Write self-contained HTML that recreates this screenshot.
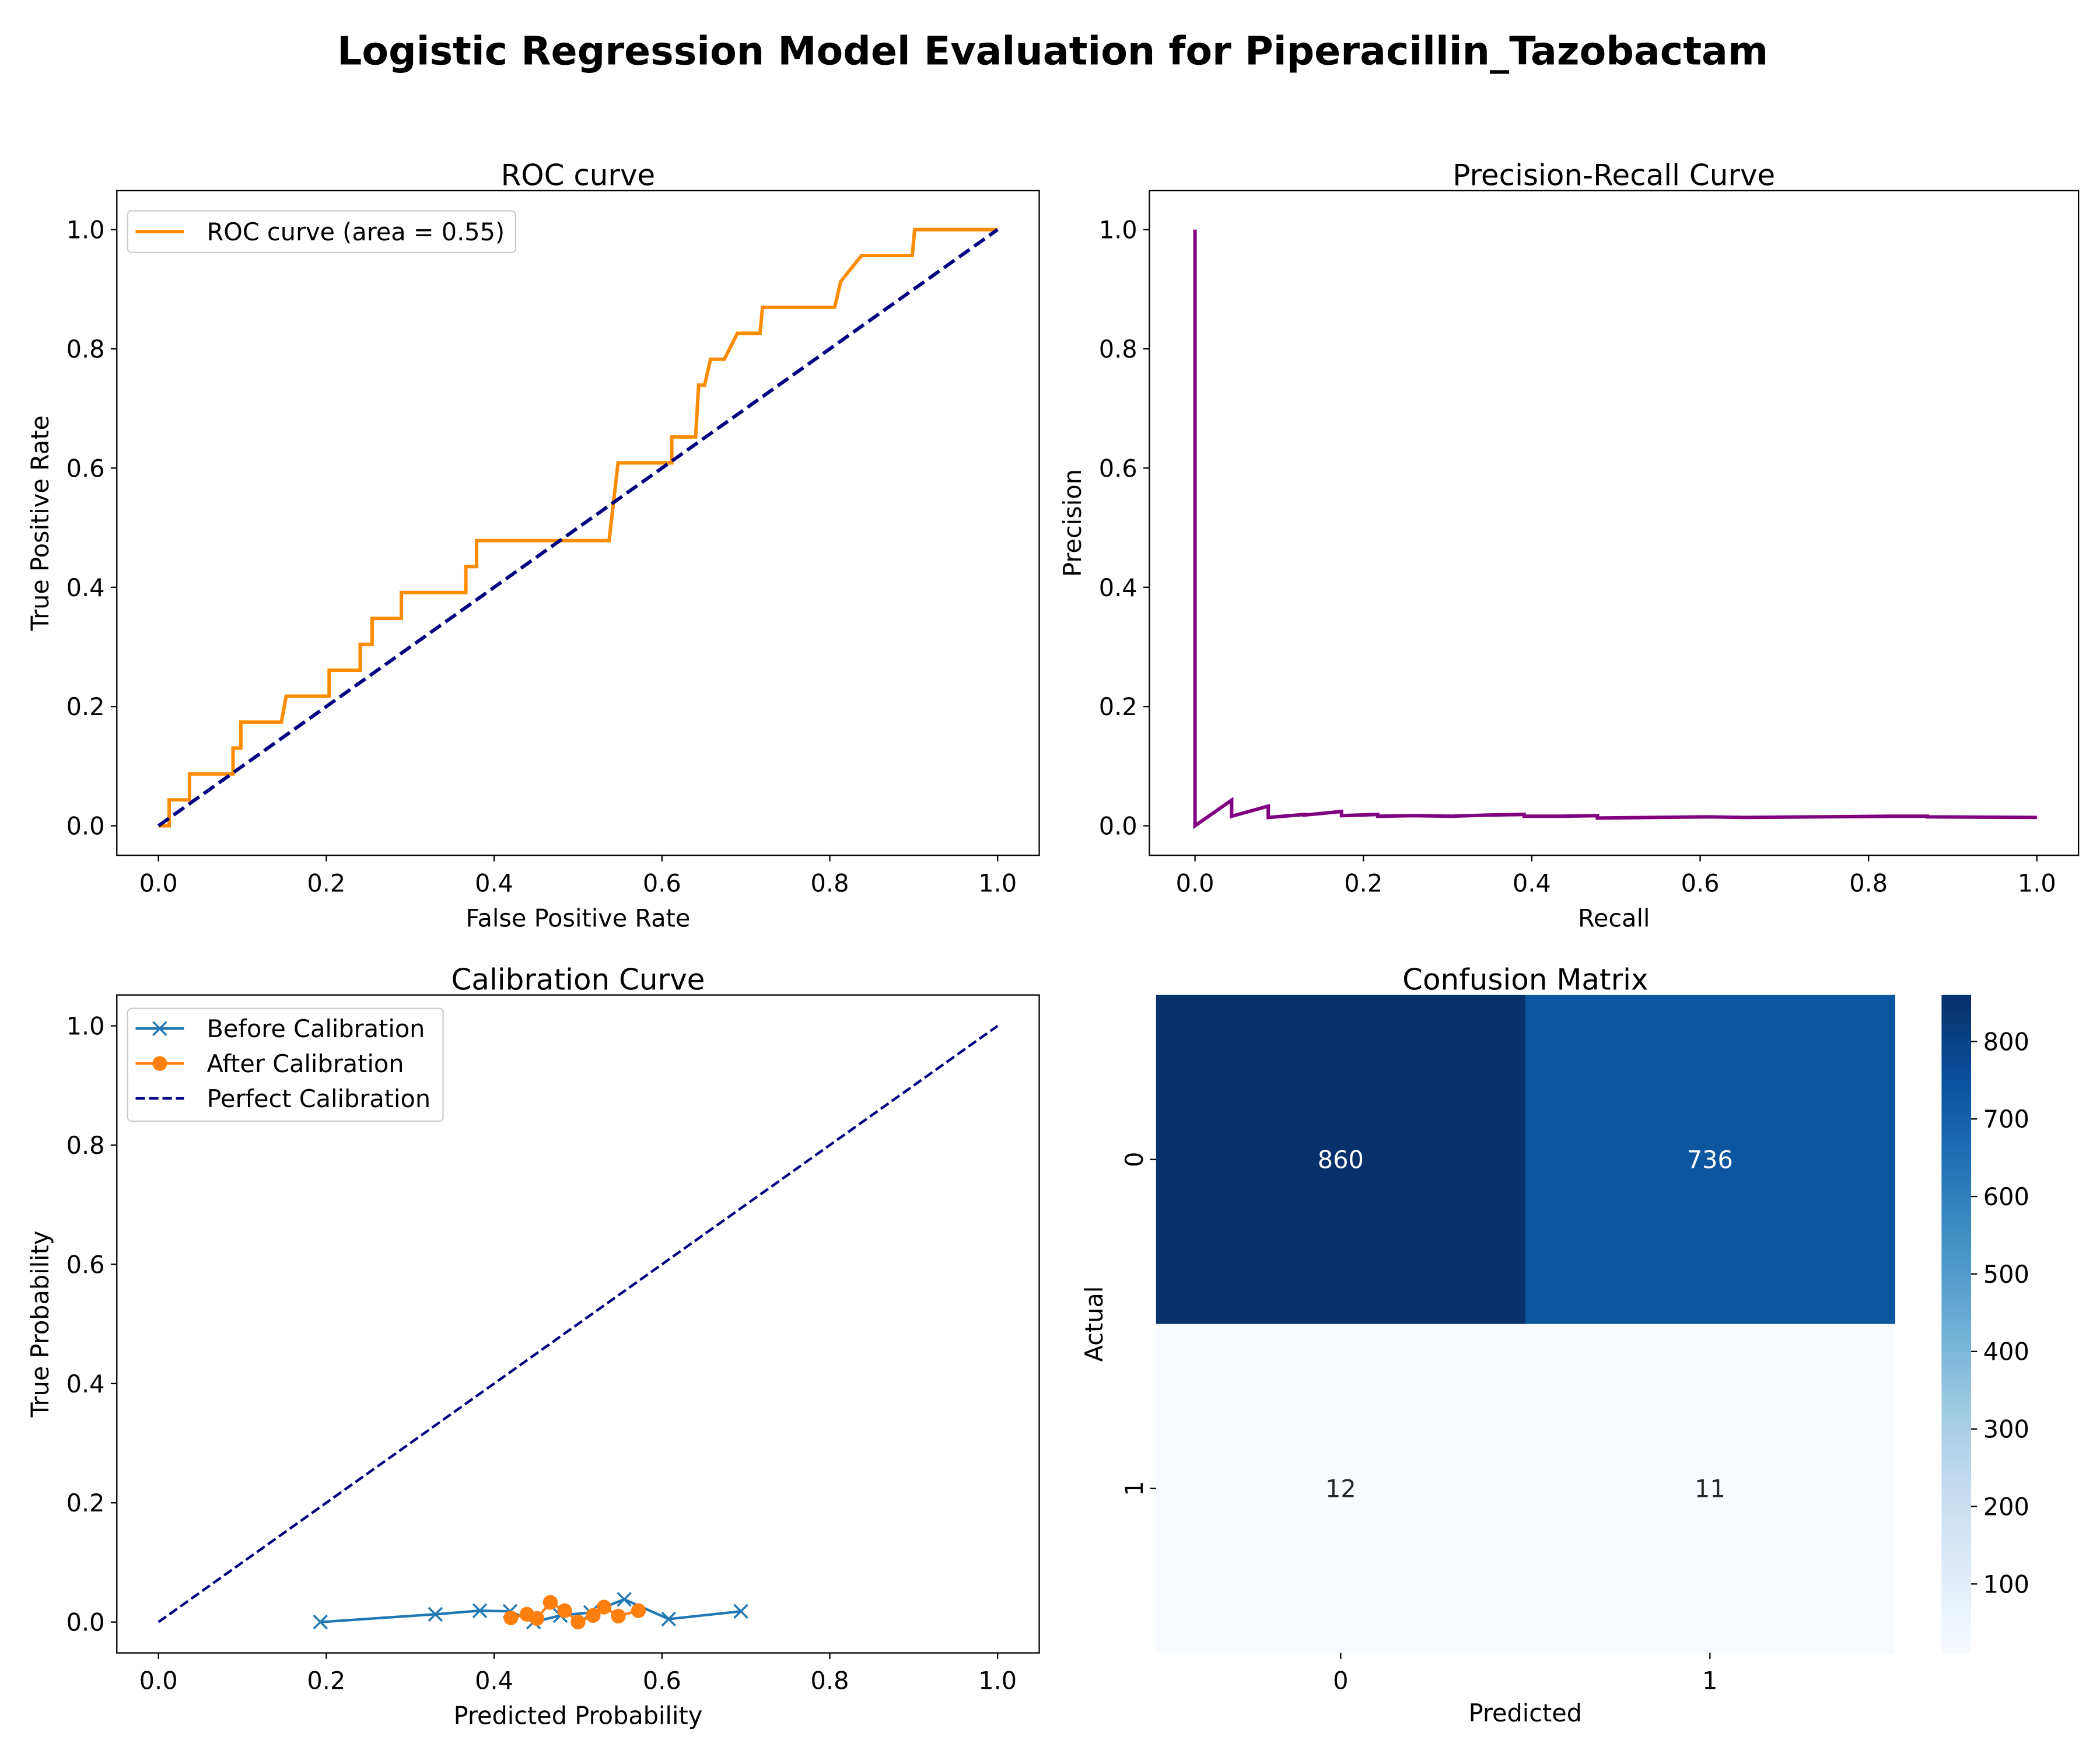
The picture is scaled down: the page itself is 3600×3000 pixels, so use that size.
<!DOCTYPE html>
<html><head><meta charset="utf-8"><style>
html,body{margin:0;padding:0;background:#fff;}
svg{display:block;font-family:"DejaVu Sans","Liberation Sans",sans-serif;}
</style></head><body>
<svg id="fig" width="3600" height="3000" viewBox="0 0 1564 1303.3" preserveAspectRatio="none" xmlns="http://www.w3.org/2000/svg">
<rect width="1564" height="1303.3" fill="#fff"/>
<text x="784" y="48" text-anchor="middle" font-size="28.9" font-weight="bold">Logistic Regression Model Evaluation for Piperacillin_Tazobactam</text>
<g id="g"></g>
</svg>
<script>
// ROC data
const rocFpr=[0,0.0128,0.0128,0.037,0.037,0.0889,0.0889,0.0982,0.0982,0.1465,0.1522,0.2034,0.2034,0.2404,0.2404,0.2546,0.2546,0.2895,0.2895,0.3663,0.3663,0.3791,0.3791,0.537,0.5477,0.6117,0.6117,0.6401,0.6437,0.6508,0.6579,0.6743,0.6899,0.7169,0.7198,0.8058,0.813,0.8378,0.8983,0.9011,1.0];
const rocTpr=[0,0,0.0435,0.0435,0.087,0.087,0.1304,0.1304,0.1739,0.1739,0.2174,0.2174,0.2609,0.2609,0.3043,0.3043,0.3478,0.3478,0.3913,0.3913,0.4348,0.4348,0.4783,0.4783,0.6087,0.6087,0.6522,0.6522,0.7391,0.7391,0.7826,0.7826,0.8261,0.8261,0.8696,0.8696,0.913,0.9565,0.9565,1.0,1.0];
// PR data
const prRecall=[0,0,0.0435,0.0435,0.087,0.087,0.13,0.13,0.174,0.174,0.217,0.217,0.26,0.304,0.348,0.391,0.391,0.435,0.478,0.478,0.609,0.652,0.826,0.87,0.87,1.0];
const prPrecision=[1.0,0,0.043,0.016,0.033,0.014,0.019,0.018,0.024,0.017,0.019,0.016,0.017,0.016,0.018,0.019,0.016,0.016,0.017,0.013,0.015,0.014,0.016,0.016,0.015,0.014];
// Calibration data
const beforeX=[0.193,0.330,0.383,0.419,0.447,0.479,0.515,0.555,0.608,0.694];
const beforeY=[0.0,0.013,0.019,0.018,0.0,0.011,0.016,0.038,0.005,0.018];
const afterX=[0.420,0.439,0.451,0.467,0.484,0.500,0.518,0.531,0.548,0.572];
const afterY=[0.007,0.013,0.006,0.033,0.019,0.0,0.011,0.025,0.010,0.019];
// Confusion matrix
const cmValues=[[860,736],[12,11]];
const cmLabels=['0','1'];
const tickVals=[0,0.2,0.4,0.6,0.8,1.0];
const tickLabels=['0.0','0.2','0.4','0.6','0.8','1.0'];
const cbTicks=[100,200,300,400,500,600,700,800];

const FS=18, TFS=21.7;
const NS='http://www.w3.org/2000/svg';
const G=document.getElementById('g');
function el(tag,attrs,parent,text){const e=document.createElementNS(NS,tag);for(const k in attrs)e.setAttribute(k,attrs[k]);if(text!==undefined)e.textContent=text;(parent||G).appendChild(e);return e;}
function mk(x0,x1,y0,y1){return {sx:v=>x0+v*(x1-x0),sy:v=>y0+v*(y1-y0)};}

function axesPanel(name,L,R,T,B,ax,title,xl,yl){
  const g=el('g',{});
  
  
  const t=el('text',{x:(L+R)/2,y:T-4,'text-anchor':'middle','font-size':TFS},g,title);
  
  
  tickVals.forEach((v,i)=>{
    const x=ax.sx(v);el('line',{x1:x,x2:x,y1:B,y2:B+4.5,stroke:'#000','stroke-width':1},g);
    const tx=el('text',{x:x,y:B+27,'text-anchor':'middle','font-size':FS},g,tickLabels[i]);
    
    
    const y=ax.sy(v);el('line',{x1:L,x2:L-4.5,y1:y,y2:y,stroke:'#000','stroke-width':1},g);
    const ty=el('text',{x:L-9,y:y+6.5,'text-anchor':'end','font-size':FS},g,tickLabels[i]);
    
    
  });
  const xt=el('text',{x:(L+R)/2,y:B+53,'text-anchor':'middle','font-size':FS},g,xl);
  
  
  const cy=(T+B)/2;
  const yt=el('text',{x:L-51,y:cy,'text-anchor':'middle','font-size':FS,transform:`rotate(-90 ${L-51} ${cy})`},g,yl);
  
  
  return g;
}
function frame(g,L,R,T,B){el('rect',{x:L,y:T,width:R-L,height:B-T,fill:'none',stroke:'#000','stroke-width':1},g);}
function pts(xs,ys,ax){return xs.map((x,i)=>ax.sx(x).toFixed(2)+','+ax.sy(ys[i]).toFixed(2)).join(' ');}

// ROC
{const L=87,R=774,T=142,B=637;const ax=mk(118,743,615,171);
const g=axesPanel('roc',L,R,T,B,ax,'ROC curve','False Positive Rate','True Positive Rate');
const c=el('polyline',{points:pts(rocFpr,rocTpr,ax),fill:'none',stroke:'#ff8c00','stroke-width':2.6,'stroke-linejoin':'miter'},g);


const d=el('line',{x1:ax.sx(0),y1:ax.sy(0),x2:ax.sx(1),y2:ax.sy(1),stroke:'#000080','stroke-width':2.6,'stroke-dasharray':'9.6 4.2'},g);


frame(g,L,R,T,B);
const lg=el('g',{},g);


el('rect',{x:95,y:157,width:289,height:31,rx:3,fill:'#fff',stroke:'#ccc','stroke-width':1},lg);
el('line',{x1:101,x2:137,y1:172.5,y2:172.5,stroke:'#ff8c00','stroke-width':2.6},lg);
el('text',{x:154,y:179,'font-size':FS},lg,'ROC curve (area = 0.55)');
}
// PR
{const L=856,R=1548,T=142,B=637;const ax=mk(890,1517,615,171);
const g=axesPanel('pr',L,R,T,B,ax,'Precision-Recall Curve','Recall','Precision');
const c=el('polyline',{points:pts(prRecall,prPrecision,ax),fill:'none',stroke:'#800080','stroke-width':2.6},g);


frame(g,L,R,T,B);}
// Calibration
{const L=87,R=774,T=741,B=1231;const ax=mk(118,743,1208,764);
const g=axesPanel('calibration',L,R,T,B,ax,'Calibration Curve','Predicted Probability','True Probability');
const d=el('line',{x1:ax.sx(0),y1:ax.sy(0),x2:ax.sx(1),y2:ax.sy(1),stroke:'#000080','stroke-width':1.9,'stroke-dasharray':'7 3'},g);


const b=el('polyline',{points:pts(beforeX,beforeY,ax),fill:'none',stroke:'#1f77b4','stroke-width':1.9},g);


beforeX.forEach((x,i)=>{const cx=ax.sx(x),cy=ax.sy(beforeY[i]);
  const m=el('path',{d:`M${cx-5},${cy-5}L${cx+5},${cy+5}M${cx-5},${cy+5}L${cx+5},${cy-5}`,stroke:'#1f77b4','stroke-width':1.5},g);
  
  });
const a=el('polyline',{points:pts(afterX,afterY,ax),fill:'none',stroke:'#ff7f0e','stroke-width':1.9},g);


afterX.forEach((x,i)=>{const m=el('circle',{cx:ax.sx(x),cy:ax.sy(afterY[i]),r:5.5,fill:'#ff7f0e'},g);
  
  });
frame(g,L,R,T,B);
const lg=el('g',{},g);


el('rect',{x:95,y:751,width:235,height:84,rx:3,fill:'#fff',stroke:'#ccc','stroke-width':1},lg);
el('line',{x1:101,x2:137,y1:766,y2:766,stroke:'#1f77b4','stroke-width':1.9},lg);
el('path',{d:'M114,761L124,771M114,771L124,761',stroke:'#1f77b4','stroke-width':1.5},lg);
el('text',{x:154,y:772.5,'font-size':FS},lg,'Before Calibration');
el('line',{x1:101,x2:137,y1:792,y2:792,stroke:'#ff7f0e','stroke-width':1.9},lg);
el('circle',{cx:119,cy:792,r:5.5,fill:'#ff7f0e'},lg);
el('text',{x:154,y:798.5,'font-size':FS},lg,'After Calibration');
el('line',{x1:101,x2:137,y1:818,y2:818,stroke:'#000080','stroke-width':1.9,'stroke-dasharray':'7 3'},lg);
el('text',{x:154,y:824.5,'font-size':FS},lg,'Perfect Calibration');
}
// Confusion matrix
{const L=861,R=1411,T=741,B=1231;const vmin=11,vmax=860;
const stops=[[0,[247,251,255]],[0.125,[222,235,247]],[0.25,[198,219,239]],[0.375,[158,202,225]],[0.5,[107,174,214]],[0.625,[66,146,198]],[0.75,[33,113,181]],[0.875,[8,81,156]],[1,[8,48,107]]];
function blues(t){t=Math.max(0,Math.min(1,t));for(let i=1;i<stops.length;i++){if(t<=stops[i][0]){const a=stops[i-1],b=stops[i];const f=(t-a[0])/(b[0]-a[0]);return 'rgb('+a[1].map((v,k)=>Math.round(v+f*(b[1][k]-v))).join(',')+')';}}return 'rgb(8,48,107)';}
const g=el('g',{});


const t=el('text',{x:(L+R)/2,y:T-4,'text-anchor':'middle','font-size':TFS},g,'Confusion Matrix');


const cw=(R-L)/2,ch=(B-T)/2;
cmValues.forEach((row,r)=>row.forEach((v,c)=>{const tt=(v-vmin)/(vmax-vmin);
  const cell=el('rect',{x:L+c*cw,y:T+r*ch,width:cw+0.5,height:ch+0.5,fill:blues(tt)},g);
  
  
  const tx=el('text',{x:L+c*cw+cw/2,y:T+r*ch+ch/2+6.5,'text-anchor':'middle','font-size':FS,fill:tt>0.5?'#fff':'#262626'},g,String(v));
  
  }));
cmLabels.forEach((lab,i)=>{const x=L+i*cw+cw/2;el('line',{x1:x,x2:x,y1:B,y2:B+4.5,stroke:'#000'},g);
  const a=el('text',{x:x,y:B+27,'text-anchor':'middle','font-size':FS},g,lab);
  
  
  const y=T+i*ch+ch/2;el('line',{x1:L,x2:L-4.5,y1:y,y2:y,stroke:'#000'},g);
  const b=el('text',{x:L-10,y:y,'text-anchor':'middle','font-size':FS,transform:`rotate(-90 ${L-10} ${y})`},g,lab);
  
  });
const xl=el('text',{x:(L+R)/2,y:B+51,'text-anchor':'middle','font-size':FS},g,'Predicted');


const cy=(T+B)/2;
const yl=el('text',{x:L-40,y:cy,'text-anchor':'middle','font-size':FS,transform:`rotate(-90 ${L-40} ${cy})`},g,'Actual');


// colorbar
const CL=1446,CR=1468;
const cb=el('g',{},g);


const n=120;for(let i=0;i<n;i++){const y0=B-(i+1)*(B-T)/n;el('rect',{x:CL,y:y0,width:CR-CL,height:(B-T)/n+0.6,fill:blues((i+0.5)/n)},cb);}
const cs=v=>B-(v-vmin)/(vmax-vmin)*(B-T);
cbTicks.forEach(v=>{const y=cs(v);el('line',{x1:CR,x2:CR+4.5,y1:y,y2:y,stroke:'#000'},cb);
  const tx=el('text',{x:CR+9,y:y+6.5,'font-size':FS},cb,String(v));
  
  });
}
</script>
</body></html>
